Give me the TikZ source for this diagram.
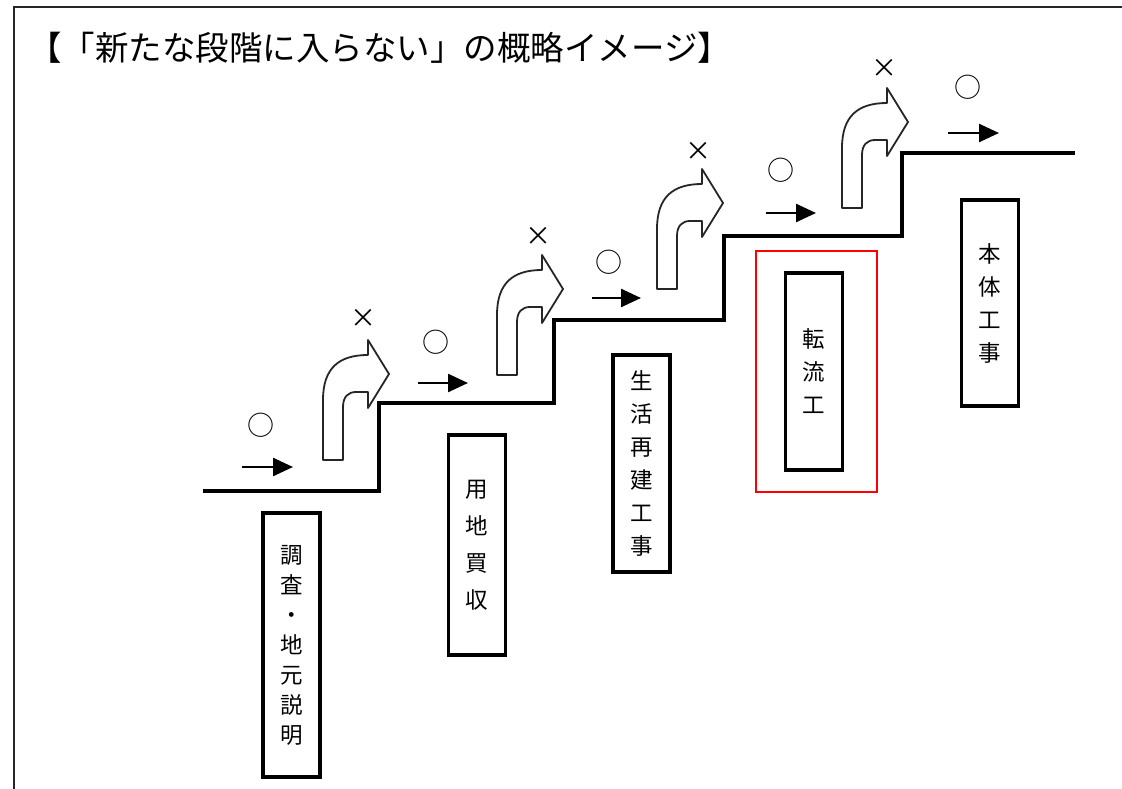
\documentclass[tikz,border=0pt]{standalone}
\usepackage{fontspec}
\setmainfont{Noto Sans CJK JP}
\usetikzlibrary{arrows.meta}
\begin{document}
\begin{tikzpicture}[x=1pt,y=-1pt,
  frame/.style={line width=2.5pt,black!85},
  stair/.style={line width=3.5pt,black,line join=miter},
  stepbox/.style={draw=black,line width=3.5pt,minimum width=57pt,inner sep=0pt,align=center,font=\fontsize{22.5}{33}\selectfont},
  blockarrow/.style={draw=black!85,line width=1.8pt,fill=white,line join=round},
  okmark/.style={font=\fontsize{27}{27}\selectfont,inner sep=0pt},
  ngmark/.style={font=\fontsize{26}{26}\selectfont,inner sep=0pt},
  smallarrow/.style={line width=2.5pt,-{Triangle[length=20pt,width=18pt]}},
  curvedarrow/.pic={
    \draw[blockarrow] (0,0) -- (0,-60) .. controls (0,-92) and (16,-105) .. (45,-105)
      -- (45,-120) -- (66,-86) -- (45,-52) -- (45,-68) -- (33,-68)
      .. controls (25,-68) and (20,-63) .. (20,-53) -- (20,0) -- cycle;
  }]
\useasboundingbox (0,0) rectangle (1122,789);
% frame
\draw[frame] (14,789) -- (14,7) -- (1122,7);
% title
\node[anchor=west,inner sep=0pt,font=\fontsize{33.5}{33.5}\selectfont] (title) at (28,48) {【「新たな段階に入らない」の概略イメージ】};
% staircase
\draw[stair] (203,491) -- (379,491) -- (379,403) -- (554,403) -- (554,320) -- (724,320) -- (724,236) -- (902,236) -- (902,153) -- (1075,153);
% curved arrows
\pic at (323,460) {curvedarrow};
\pic at (497,375) {curvedarrow};
\pic at (657,289) {curvedarrow};
\pic at (842,208) {curvedarrow};
% crosses
\node[ngmark] (x1) at (363,318) {×};
\node[ngmark] (x2) at (538,236) {×};
\node[ngmark] (x3) at (698,151) {×};
\node[ngmark] (x4) at (884,68) {×};
% circles
\node[okmark] (o1) at (261,425) {○};
\node[okmark] (o2) at (436,342) {○};
\node[okmark] (o3) at (609,262) {○};
\node[okmark] (o4) at (781,170) {○};
\node[okmark] (o5) at (968,87) {○};
% small arrows
\coordinate (a1s) at (242,467); \coordinate (a1e) at (293,467);
\coordinate (a2s) at (418,383); \coordinate (a2e) at (468,383);
\coordinate (a3s) at (592,298); \coordinate (a3e) at (641,298);
\coordinate (a4s) at (766,213); \coordinate (a4e) at (816,213);
\coordinate (a5s) at (948,133); \coordinate (a5e) at (999,133);
\foreach \i in {1,...,5} {\draw[smallarrow] (a\i s) -- (a\i e);}
% boxes
\node[stepbox,minimum height=264pt,font=\fontsize{22.5}{30}\selectfont] (b1) at (291.5,645) {調\\査\\・\\地\\元\\説\\明};
\node[stepbox,minimum height=220pt,font=\fontsize{22.5}{37}\selectfont] (b2) at (477,545) {用\\地\\買\\収};
\node[stepbox,minimum height=217pt] (b3) at (641.5,463.5) {生\\活\\再\\建\\工\\事};
\node[stepbox,minimum height=197pt] (b4) at (814,371.5) {転\\流\\工};
\node[stepbox,minimum height=206pt] (b5) at (990,303) {本\\体\\工\\事};
% red highlight
\draw[red,line width=2pt] (756,251) rectangle (877,492);
\end{tikzpicture}
\end{document}
